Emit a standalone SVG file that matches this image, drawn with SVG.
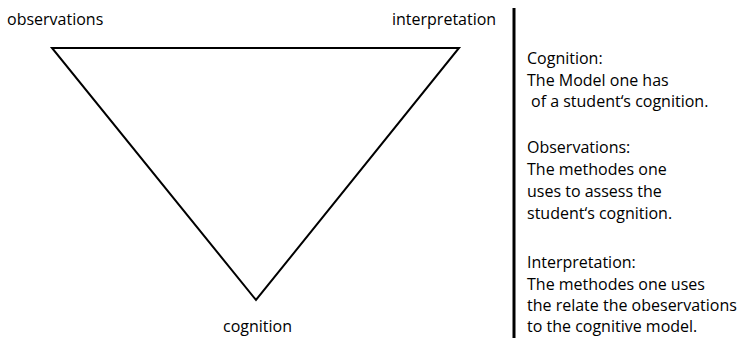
<svg xmlns="http://www.w3.org/2000/svg" width="740" height="338" viewBox="0 0 740 338">
<style>
text{font-family:"Open Sans","Noto Sans",sans-serif;font-size:16px;fill:#000}
.edge{fill:none;stroke:#000;stroke-width:2}
</style>
<rect width="740" height="338" fill="#fff"/>
<g id="connectors">
<polygon class="edge" points="52,48 459,48 256,300"/>
<line x1="514" y1="8" x2="514" y2="338" stroke="#000" stroke-width="3"/>
</g>
<g id="observations"><text x="7" y="25">observations</text></g>
<g id="interpretation"><text x="392" y="25">interpretation</text></g>
<g id="cognition"><text x="223" y="332">cognition</text></g>
<g id="legend">
<text x="527" y="64">Cognition:</text>
<text x="527" y="86">The Model one has</text>
<text x="531" y="107">of a student‘s cognition.</text>
<text x="527" y="153">Observations:</text>
<text x="527" y="175">The methodes one</text>
<text x="527" y="197">uses to assess the</text>
<text x="527" y="219">student‘s cognition.</text>
<text x="527" y="268">Interpretation:</text>
<text x="527" y="290">The methodes one uses</text>
<text x="527" y="311">the relate the obeservations</text>
<text x="527" y="332">to the cognitive model.</text>
</g>
</svg>
